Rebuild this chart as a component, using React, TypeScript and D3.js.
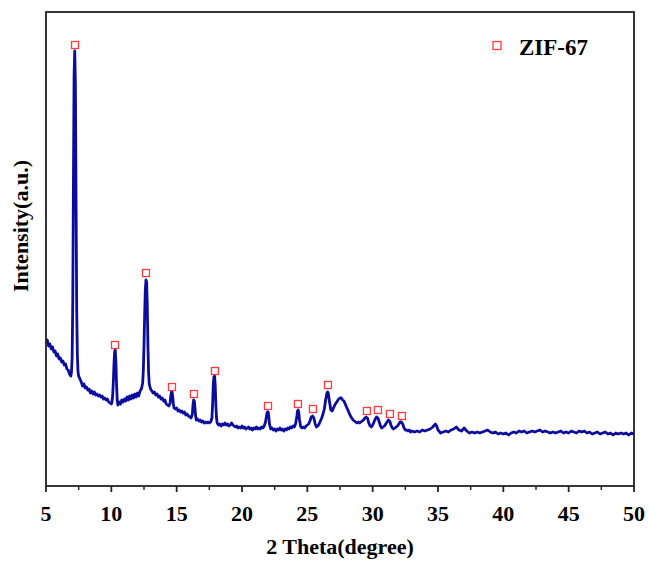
import React from "react";
import * as d3 from "d3";

// XRD pattern: [2θ (degree), intensity (a.u.)]
const pattern: [number, number][] = [
  [5.0,143],[5.1,146],[5.2,140],[5.3,142],[5.4,137],[5.5,139],[5.6,134],[5.7,135],[5.8,130],[5.9,132],
  [6.0,127],[6.1,128],[6.2,124],[6.3,125],[6.4,121],[6.5,122],[6.6,117],[6.7,116],[6.8,112],[6.9,110],
  [6.95,114],[7.0,128],[7.05,186],[7.1,306],[7.15,411],[7.2,435],[7.25,401],[7.3,286],[7.35,176],[7.4,131],
  [7.45,114],[7.5,110],[7.6,107],[7.7,104],[7.8,100],[7.9,102],[8.0,98],[8.1,99],[8.2,96],[8.3,97],
  [8.4,93],[8.5,95],[8.6,92],[8.7,94],[8.8,91],[8.9,92],[9.0,90],[9.1,91],[9.2,89],[9.3,90],
  [9.4,87],[9.5,88],[9.6,86],[9.7,87],[9.8,84],[9.9,83],[10.0,82],[10.05,84],[10.1,90],[10.15,103],
  [10.2,121],[10.25,134],[10.3,136],[10.35,124],[10.4,101],[10.45,86],[10.5,81],[10.6,84],[10.7,82],[10.8,86],
  [10.9,84],[11.0,87],[11.1,85],[11.2,89],[11.3,86],[11.4,90],[11.5,87],[11.6,91],[11.7,88],[11.8,92],
  [11.9,89],[12.0,93],[12.1,90],[12.2,95],[12.3,97],[12.4,103],[12.45,116],[12.5,141],[12.55,171],[12.6,196],
  [12.65,206],[12.7,204],[12.75,181],[12.8,141],[12.85,114],[12.9,102],[13.0,97],[13.1,95],[13.2,93],[13.3,94],
  [13.4,91],[13.5,92],[13.6,89],[13.7,90],[13.8,87],[13.9,88],[14.0,85],[14.1,86],[14.2,82],[14.3,81],
  [14.4,80],[14.5,83],[14.55,90],[14.6,94],[14.65,94],[14.7,89],[14.75,82],[14.8,78],[14.9,77],[15.0,78],
  [15.1,75],[15.2,76],[15.3,74],[15.4,75],[15.5,73],[15.6,74],[15.7,71],[15.8,72],[15.9,70],[16.0,69],
  [16.1,68],[16.2,72],[16.25,81],[16.3,86],[16.35,85],[16.4,78],[16.45,70],[16.5,66],[16.6,67],[16.7,65],
  [16.8,66],[16.9,64],[17.0,65],[17.1,63],[17.2,64],[17.3,63],[17.4,64],[17.5,63],[17.6,64],[17.7,68],
  [17.75,81],[17.8,101],[17.85,109],[17.9,110],[17.95,101],[18.0,81],[18.05,68],[18.1,63],[18.2,61],[18.3,62],
  [18.4,60],[18.5,62],[18.6,61],[18.7,63],[18.8,61],[18.9,62],[19.0,60],[19.1,61],[19.2,63],[19.3,61],
  [19.4,60],[19.5,59],[19.6,60],[19.7,58],[19.8,59],[19.9,58],[20.0,60],[20.1,58],[20.2,59],[20.3,57],
  [20.4,58],[20.5,59],[20.6,57],[20.7,58],[20.8,56],[20.9,58],[21.0,57],[21.1,59],[21.2,57],[21.3,58],
  [21.4,57],[21.5,59],[21.6,58],[21.7,60],[21.8,64],[21.9,72],[21.95,74],[22.0,74],[22.05,70],[22.1,62],
  [22.2,57],[22.3,58],[22.4,56],[22.5,57],[22.6,55],[22.7,57],[22.8,56],[22.9,58],[23.0,56],[23.1,57],
  [23.2,55],[23.3,57],[23.4,56],[23.5,58],[23.6,57],[23.7,59],[23.8,58],[23.9,60],[24.0,59],[24.1,62],
  [24.2,70],[24.25,75],[24.3,76],[24.35,73],[24.4,66],[24.5,59],[24.6,58],[24.7,59],[24.8,58],[24.9,60],
  [25.0,61],[25.1,62],[25.2,65],[25.3,69],[25.4,70],[25.5,68],[25.6,62],[25.7,59],[25.8,60],[25.9,62],
  [26.0,65],[26.1,68],[26.2,72],[26.3,77],[26.4,86],[26.5,93],[26.55,94],[26.6,93],[26.7,84],[26.8,76],
  [26.9,75],[27.0,78],[27.1,81],[27.2,83],[27.3,85],[27.4,87],[27.5,88],[27.6,88],[27.7,86],[27.8,85],
  [27.9,82],[28.0,79],[28.1,76],[28.2,73],[28.3,70],[28.4,68],[28.5,66],[28.6,65],[28.7,64],[28.8,63],
  [28.9,64],[29.0,63],[29.1,64],[29.2,65],[29.3,66],[29.4,68],[29.5,69],[29.6,68],[29.7,63],[29.8,60],
  [29.9,59],[30.0,61],[30.1,64],[30.2,67],[30.3,69],[30.4,68],[30.5,64],[30.6,60],[30.7,58],[30.8,59],
  [30.9,60],[31.0,62],[31.1,64],[31.2,66],[31.3,65],[31.4,61],[31.5,58],[31.6,57],[31.7,58],[31.8,59],
  [31.9,60],[32.0,62],[32.1,64],[32.2,64],[32.3,62],[32.4,58],[32.5,56],[32.6,56],[32.7,55],[32.8,56],
  [32.9,54],[33.0,55],[33.2,54],[33.4,55],[33.6,54],[33.8,56],[34.0,55],[34.2,56],[34.4,57],[34.6,59],
  [34.8,62],[34.9,60],[35.0,56],[35.2,53],[35.4,54],[35.6,55],[35.8,54],[36.0,56],[36.2,57],[36.4,59],
  [36.6,56],[36.8,55],[37.0,58],[37.2,55],[37.4,53],[37.6,54],[37.8,53],[38.0,54],[38.2,53],[38.4,54],
  [38.6,55],[38.8,56],[39.0,54],[39.2,53],[39.4,54],[39.6,52],[39.8,53],[40.0,52],[40.2,53],[40.4,51],
  [40.6,53],[40.8,54],[41.0,53],[41.2,55],[41.4,54],[41.6,55],[41.8,53],[42.0,54],[42.2,55],[42.4,54],
  [42.6,55],[42.8,56],[43.0,54],[43.2,55],[43.4,54],[43.6,53],[43.8,54],[44.0,53],[44.2,54],[44.4,55],
  [44.6,53],[44.8,54],[45.0,53],[45.2,55],[45.4,54],[45.6,53],[45.8,55],[46.0,54],[46.2,55],[46.4,53],
  [46.6,54],[46.8,52],[47.0,53],[47.2,54],[47.4,52],[47.6,53],[47.8,54],[48.0,52],[48.2,53],[48.4,51],
  [48.6,53],[48.8,52],[49.0,53],[49.2,52],[49.4,53],[49.6,51],[49.8,53],[50.0,52],
];

// ZIF-67 reflection markers
const markerTheta = [7.22, 10.28, 12.65, 14.64, 16.32, 17.93, 21.99, 24.28, 25.43, 26.58, 29.56, 30.4, 31.32, 32.24];
const markerIntensity = [441, 141, 213, 99, 92, 115, 80, 82, 77, 101, 75, 76, 72, 70];

const xTicks = [5, 10, 15, 20, 25, 30, 35, 40, 45, 50];
const xMinorTicks = [7.5, 12.5, 17.5, 22.5, 27.5, 32.5, 37.5, 42.5, 47.5];

const legendLabel = "ZIF-67";
const xTitle = "2 Theta(degree)";
const yTitle = "Intensity(a.u.)";

const W = 649;
const H = 563;
const M = { left: 46, right: 15, top: 12, bottom: 77 };
const FONT = "'Times New Roman', 'Liberation Serif', serif";
const LINE = "#0b0b9e";
const RED = "#ff3b3b";

export default function App() {
  const x = d3.scaleLinear().domain([5, 50]).range([M.left, W - M.right]);
  const y = d3.scaleLinear().domain([0, 474]).range([H - M.bottom, M.top]);
  const line = d3
    .line<[number, number]>()
    .x((d) => x(d[0]))
    .y((d) => y(d[1]));
  const x0 = M.left, x1 = W - M.right, y0 = H - M.bottom, y1 = M.top;
  const ms = 7;

  return (
    <svg
      width={W}
      height={H}
      style={{ position: "absolute", left: 0, top: 0, background: "#fff" }}
      fontFamily={FONT}
    >
      <path d={line(pattern) || ""} fill="none" stroke={LINE} strokeWidth={2.8} strokeLinejoin="round" />
      {markerTheta.map((t, i) => (
        <rect
          key={i}
          x={x(t) - ms / 2}
          y={y(markerIntensity[i]) - ms / 2}
          width={ms}
          height={ms}
          fill="#fff"
          stroke={RED}
          strokeWidth={1.3}
        />
      ))}
      {/* frame */}
      <rect x={x0} y={y1} width={x1 - x0} height={y0 - y1} fill="none" stroke="#222" strokeWidth={1.8} />
      {/* ticks */}
      {xTicks.map((t) => (
        <g key={t}>
          <line x1={x(t)} x2={x(t)} y1={y0} y2={y0 + 6} stroke="#222" strokeWidth={1.8} />
          <text x={x(t)} y={y0 + 35} textAnchor="middle" fontSize={22} fontWeight="bold" fill="#000">
            {t}
          </text>
        </g>
      ))}
      {xMinorTicks.map((t) => (
        <line key={t} x1={x(t)} x2={x(t)} y1={y0} y2={y0 + 4} stroke="#222" strokeWidth={1.5} />
      ))}
      <text x={(x0 + x1) / 2} y={554} textAnchor="middle" fontSize={22} fontWeight="bold" fill="#000">
        {xTitle}
      </text>
      <text
        transform={`translate(28, ${(y0 + y1) / 2 - 23}) rotate(-90)`}
        textAnchor="middle"
        fontSize={22}
        fontWeight="bold"
        fill="#000"
      >
        {yTitle}
      </text>
      {/* legend */}
      <rect x={497 - 4} y={45.5 - 4} width={8} height={8} fill="#fff" stroke={RED} strokeWidth={1.3} />
      <text x={519} y={55} fontSize={23} fontWeight="bold" fill="#000">
        {legendLabel}
      </text>
    </svg>
  );
}
